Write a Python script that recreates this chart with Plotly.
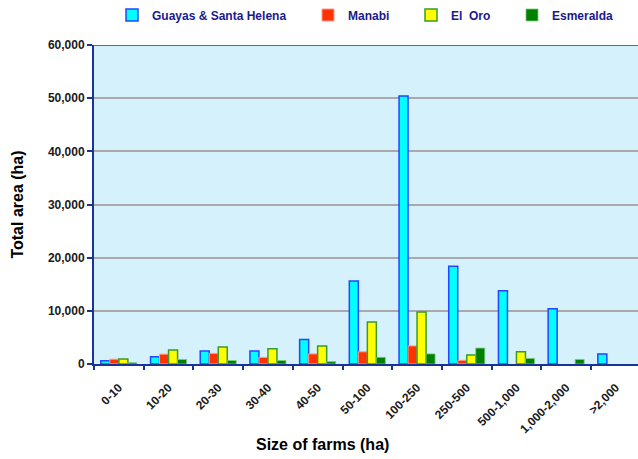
import plotly.graph_objects as go

# Farm size classes and total area (ha) per province
sizes = ["0-10", "10-20", "20-30", "30-40", "40-50", "50-100", "100-250",
         "250-500", "500-1,000", "1,000-2,000", ">2,000"]
guayas = [600, 1350, 2450, 2450, 4600, 15600, 50400, 18400, 13800, 10400, 1900]
manabi = [900, 1850, 2000, 1250, 1900, 2300, 3400, 700, 0, 0, 0]
el_oro = [950, 2650, 3200, 2850, 3400, 7900, 9800, 1700, 2300, 0, 0]
esmeralda = [250, 850, 650, 650, 450, 1250, 1900, 3000, 1050, 850, 0]

series = [
    ("Guayas & Santa Helena", guayas, "#00FFFF", "#2346FF", 1.5),
    ("Manabi", manabi, "#FF3300", "#FF9C8C", 1.0),
    ("El\u00a0 Oro", el_oro, "#FFFF00", "#3A9A2A", 1.5),
    ("Esmeralda", esmeralda, "#008000", "#7FC97F", 0.8),
]

W, H = 638, 459
L, R, T, B = 94, 0, 45, 95
plot_w = W - L - R
plot_h = H - T - B
cat_px = 49.7  # width of one size class on the x axis

# text start positions of the four legend entries (px)
legend_text_px = [152, 348, 451, 552]
legend_names = ["legend", "legend2", "legend3", "legend4"]

fig = go.Figure()
for (name, vals, fill, edge, lw), lg in zip(series, legend_names):
    fig.add_trace(go.Bar(
        x=sizes, y=vals, name=name, legend=lg, showlegend=True,
        marker=dict(
            color=fill,
            # no outline on empty classes
            line=dict(color=edge, width=[lw if v else 0 for v in vals]),
        ),
    ))

legend_font = dict(family="Liberation Sans, Arial, sans-serif", size=12,
                   color="#1A1A8C", weight="bold")
legend_layout = {}
for lg, tx in zip(legend_names, legend_text_px):
    legend_layout[lg] = dict(
        x=(tx - 40 - L) / plot_w, xanchor="left",
        y=1 + (T - 15) / plot_h, yanchor="middle",
        orientation="h", bgcolor="rgba(0,0,0,0)",
        font=legend_font, itemwidth=30, tracegroupgap=0,
        visible=True,
    )

ytick_font = dict(family="Liberation Sans, Arial, sans-serif", size=12,
                  color="#1A1A1A", weight="bold")
xtick_font = dict(family="Liberation Sans, Arial, sans-serif", size=12,
                  color="#1A1A1A", weight="bold")
title_font = dict(family="Liberation Sans, Arial, sans-serif", size=16,
                  color="#000000", weight="bold")

fig.update_layout(
    width=W, height=H,
    margin=dict(l=L, r=R, t=T, b=B, pad=0),
    paper_bgcolor="white",
    plot_bgcolor="#D4F1FC",
    showlegend=True,
    barmode="group",
    bargap=0.275,
    bargroupgap=0,
    **legend_layout,
    xaxis=dict(
        type="category",
        range=[-0.5, -0.5 + plot_w / cat_px],
        tickson="boundaries",
        ticks="outside", ticklen=4, tickwidth=1.5, tickcolor="#1A3399",
        showline=True, linecolor="#1A3399", linewidth=2,
        tickangle=-45, tickfont=xtick_font, ticklabelstandoff=10,
        showgrid=False,
    ),
    yaxis=dict(
        range=[0, 60000],
        tickvals=[0, 10000, 20000, 30000, 40000, 50000, 60000],
        tickformat=",d",
        ticks="outside", ticklen=5, tickwidth=1.5, tickcolor="#1A3399",
        showline=True, linecolor="#1A3399", linewidth=2,
        showgrid=True, gridcolor="#A9A9A9", gridwidth=1.5,
        tickfont=ytick_font,
        title=dict(text="Total area (ha)", font=title_font, standoff=20),
        zeroline=False,
    ),
    annotations=[dict(
        text="Size of farms (ha)", showarrow=False,
        xref="paper", yref="paper",
        x=(322 - L) / plot_w, y=(T + plot_h - 444) / plot_h,
        xanchor="center", yanchor="middle", font=title_font,
    )],
    shapes=[dict(
        type="line", xref="paper", yref="y", x0=0, x1=1, y0=60000, y1=60000,
        line=dict(color="#4A7396", width=2), layer="above",
    )],
)

fig.write_html("out.html")
